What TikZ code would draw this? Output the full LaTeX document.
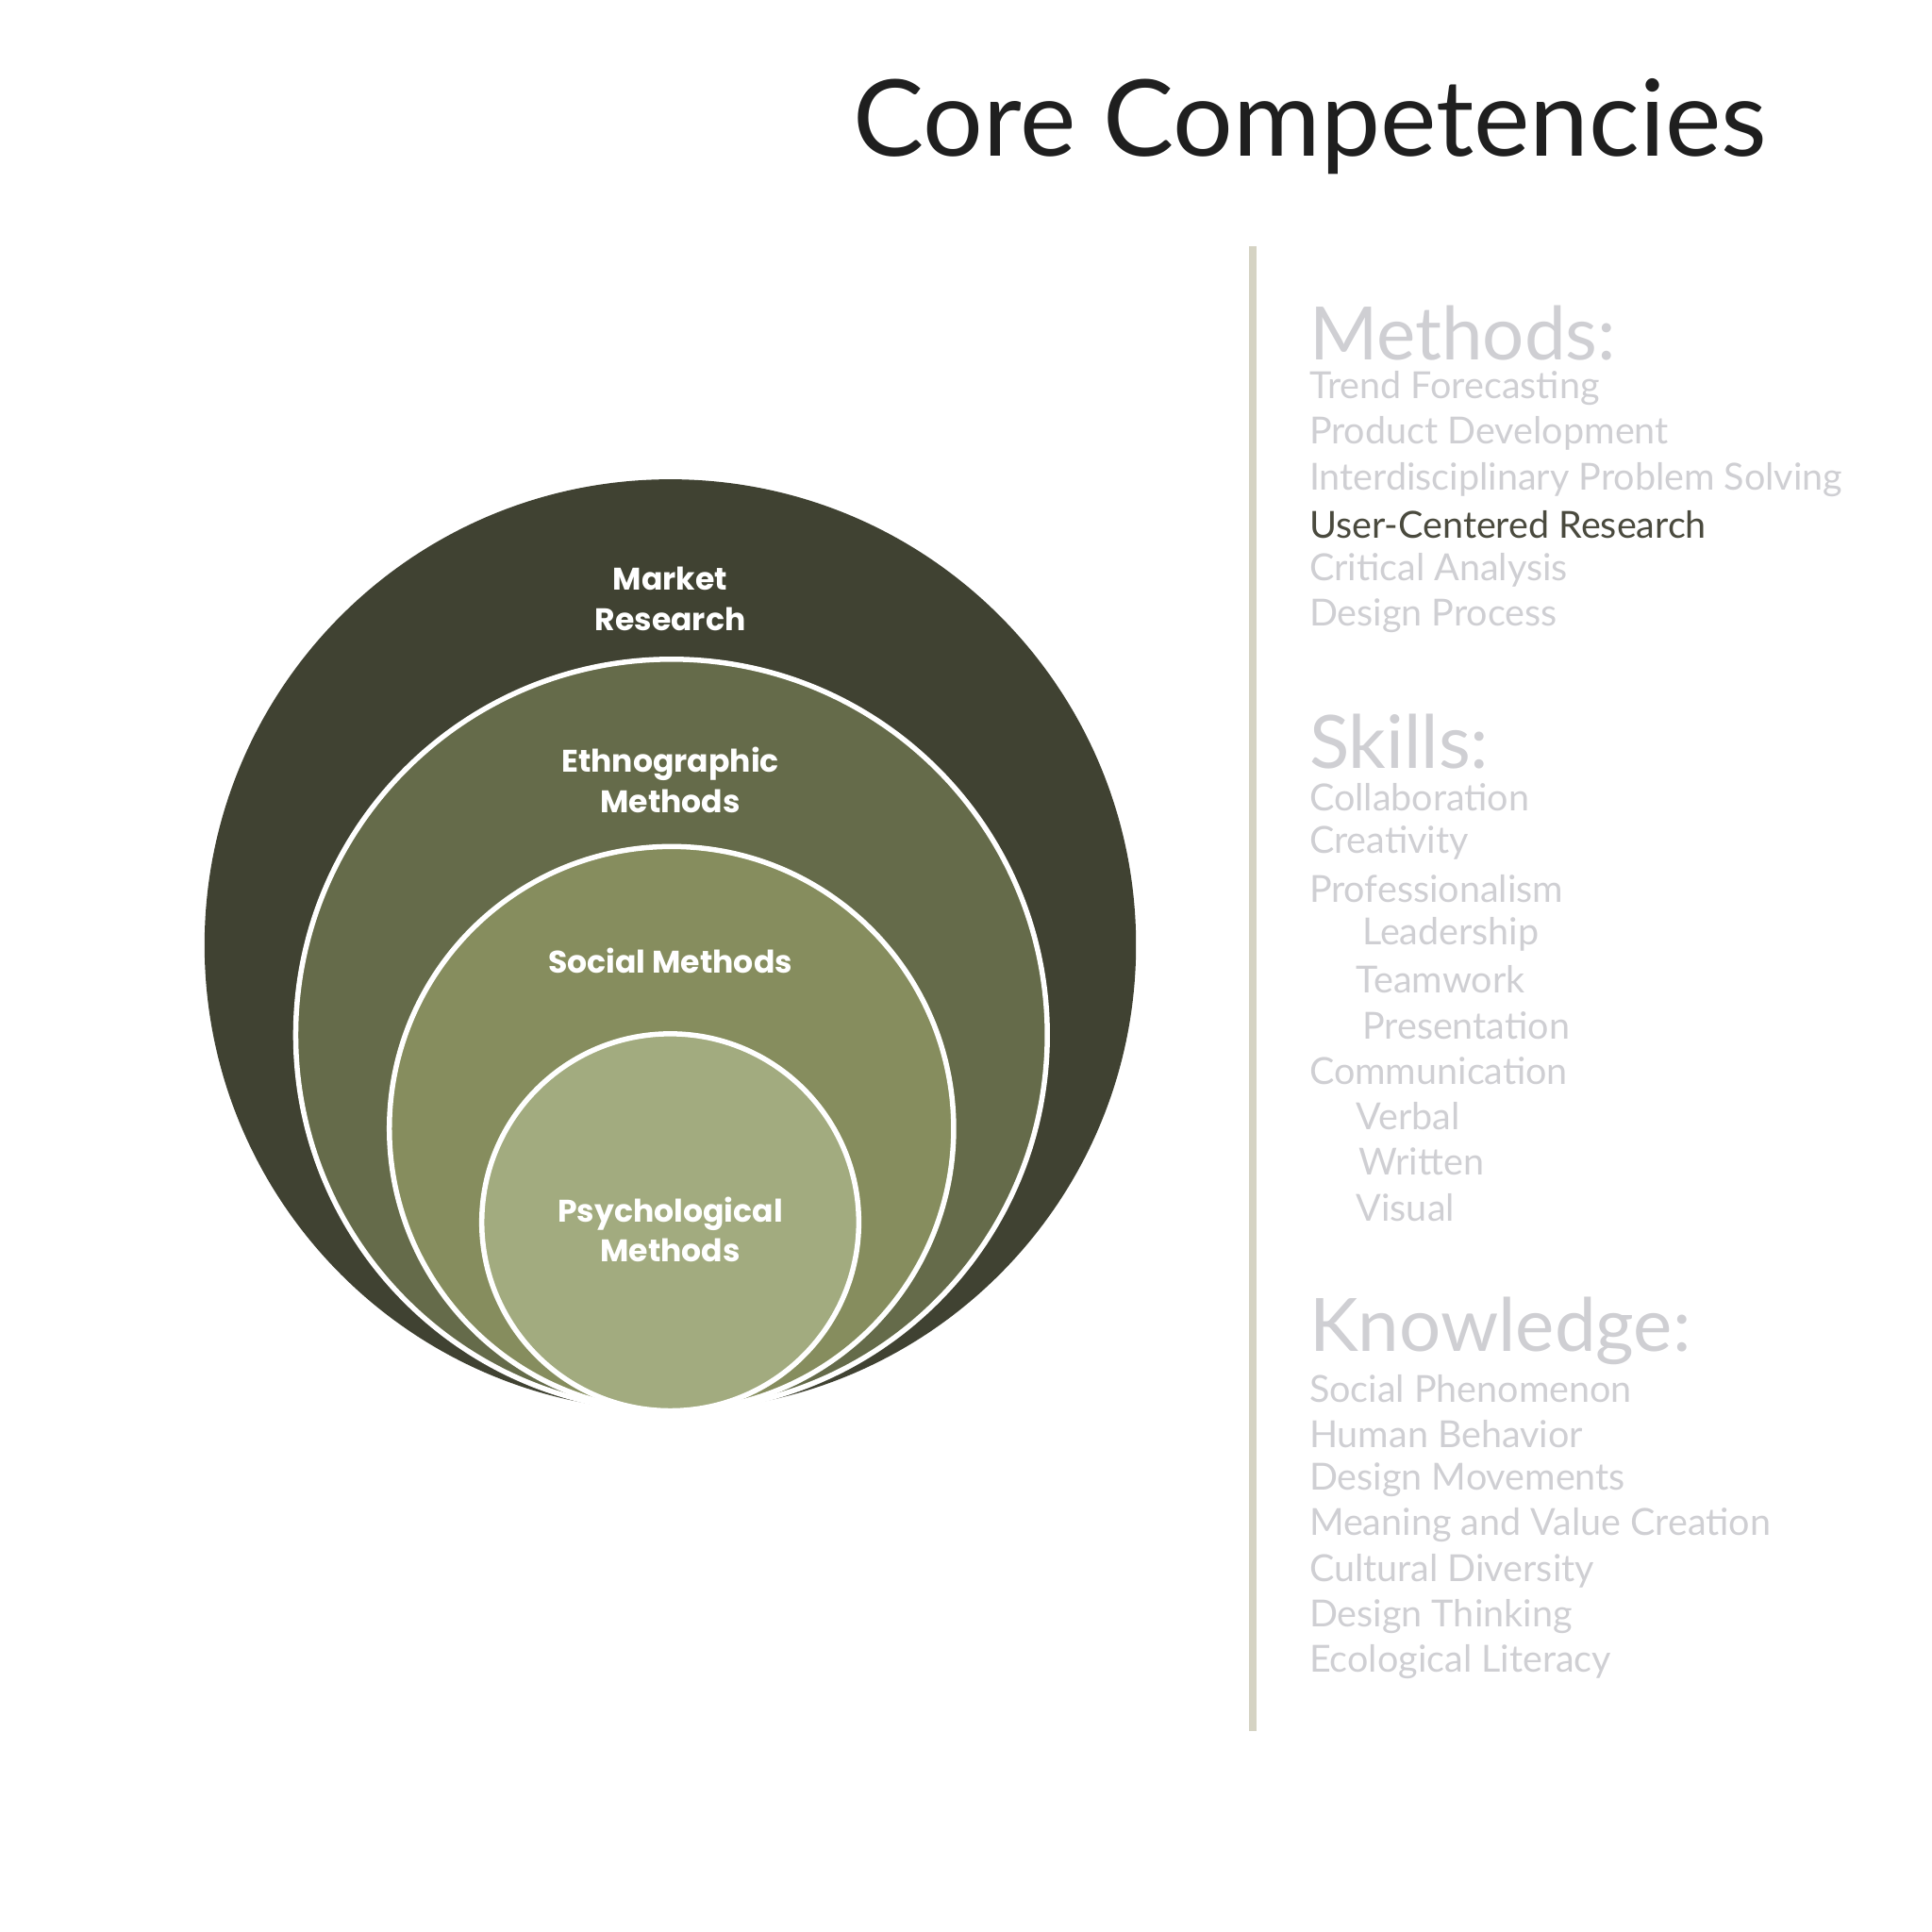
\documentclass[tikz,border=0pt]{standalone}
\usepackage{fontspec}
\setmainfont{Lato}
\newfontfamily\lblfont{Poppins}
\definecolor{cA}{HTML}{404232}
\definecolor{cB}{HTML}{656B4A}
\definecolor{cC}{HTML}{868D5E}
\definecolor{cD}{HTML}{A2AB7F}
\definecolor{lite}{HTML}{CFCFD3}
\definecolor{dark}{HTML}{4A4A3E}
\definecolor{bar}{HTML}{D5D3C3}
\tikzset{
 ring/.style={draw=white,line width=1.2pt},
 clabel/.style={text=white,font=\lblfont\bfseries\fontsize{7.2}{9.2}\selectfont,align=center},
 item/.style={anchor=west,inner sep=0pt,text=lite,font=\fontsize{8.6}{10}\selectfont\addfontfeature{}\lighttext},
 head/.style={anchor=west,inner sep=0pt,text=lite,font=\fontsize{17}{20}\selectfont},
}
\newcommand{\lighttext}{\fontseries{l}\selectfont}
\begin{document}
\begin{tikzpicture}[x={0.01cm},y={-0.01cm}]
\useasboundingbox[fill=white] (0,0) rectangle (1568,1568);
\node[anchor=base west,inner sep=0pt,font=\fontsize{24.5}{28}\selectfont,text=black!88] (title) at (692,127) {Core Competencies};
\fill[cA] (544,767) circle (378);
\filldraw[ring,fill=cB] (545,840) circle (305);
\filldraw[ring,fill=cC] (545,916) circle (229);
\filldraw[ring,fill=cD] (544,992) circle (153);
\node[clabel] (m) at (544,486) {Market\\Research};
\node[clabel] (e) at (544,633) {Ethnographic\\Methods};
\node[clabel] (s) at (544,780) {Social Methods};
\node[clabel] (p) at (544,998) {Psychological\\Methods};
\draw[bar,line width=1.8pt] (1017,200) -- (1017,1405);
\node[head] (h1) at (1062,270) {Methods:};
\node[item] at (1062,315) {Trend Forecasting};
\node[item] at (1062,352) {Product Development};
\node[item] at (1062,389) {Interdisciplinary Problem Solving};
\node[item,text=dark] at (1062,426) {User-Centered Research};
\node[item] at (1062,463) {Critical Analysis};
\node[item] at (1062,500) {Design Process};
\node[head] (h2) at (1062,602) {Skills:};
\node[item] at (1062,647) {Collaboration};
\node[item] at (1062,684) {Creativity};
\node[item] at (1062,721) {Professionalism};
\node[item] at (1105,758) {Leadership};
\node[item] at (1100,795) {Teamwork};
\node[item] at (1105,832) {Presentation};
\node[item] at (1062,869) {Communication};
\node[item] at (1100,906) {Verbal};
\node[item] at (1102,943) {Written};
\node[item] at (1100,980) {Visual};
\node[head] (h3) at (1062,1080) {Knowledge:};
\node[item] at (1062,1127) {Social Phenomenon};
\node[item] at (1062,1164) {Human Behavior};
\node[item] at (1062,1201) {Design Movements};
\node[item] at (1062,1238) {Meaning and Value Creation};
\node[item] at (1062,1275) {Cultural Diversity};
\node[item] at (1062,1312) {Design Thinking};
\node[item] at (1062,1349) {Ecological Literacy};
\end{tikzpicture}
\end{document}
